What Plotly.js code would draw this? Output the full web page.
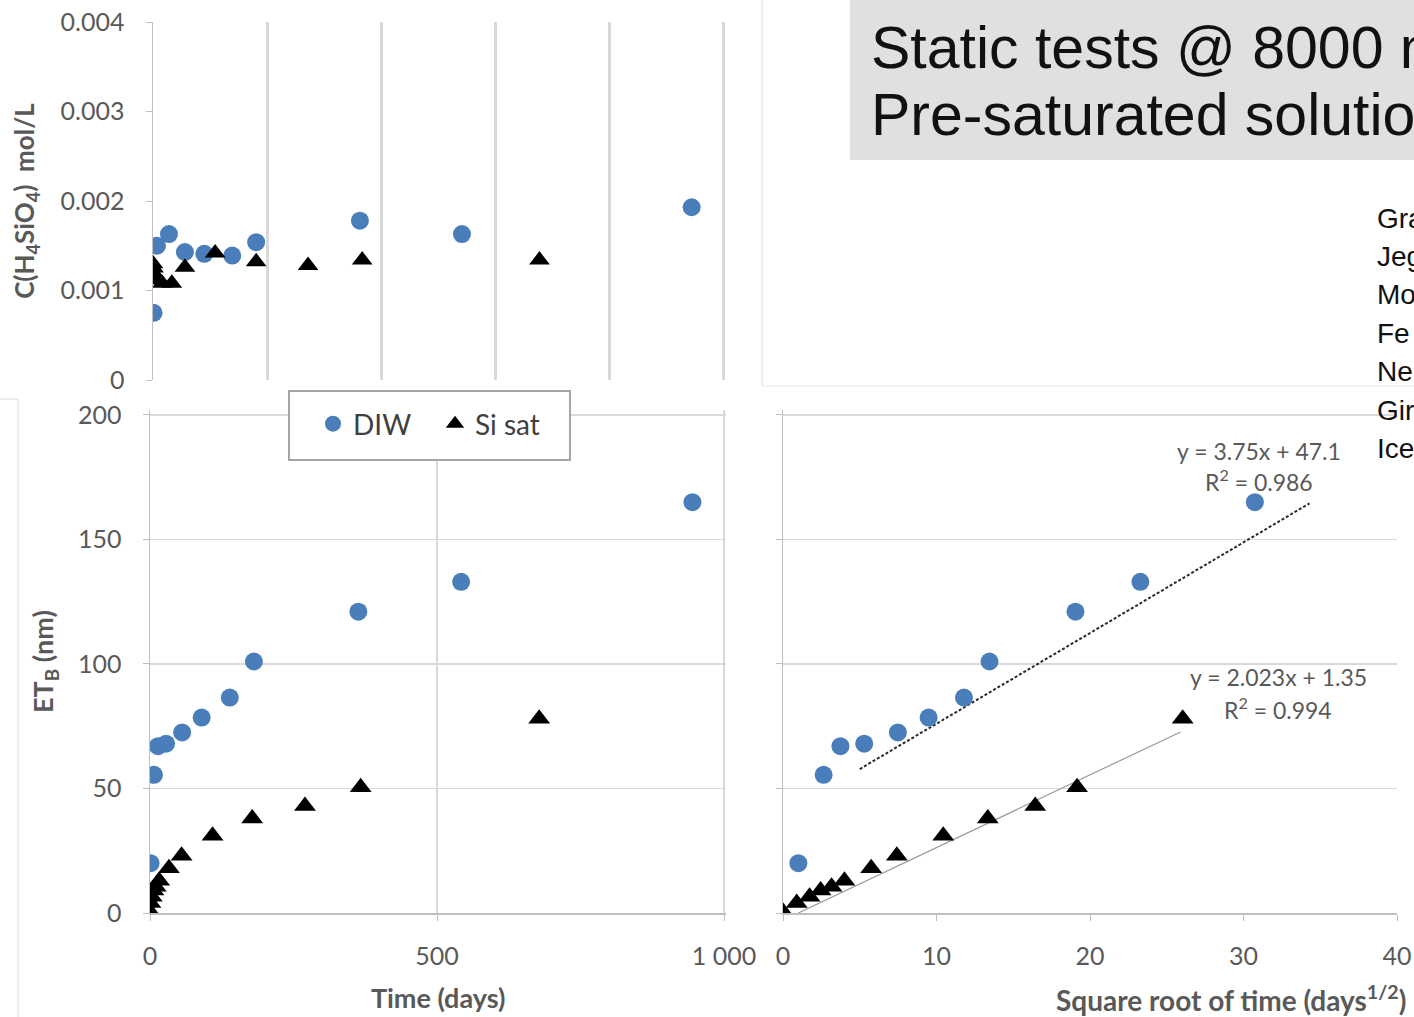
<!DOCTYPE html>
<html>
<head>
<meta charset="utf-8">
<script src="https://cdn.plot.ly/plotly-3.0.1.min.js"></script>
<style>
  html, body { margin: 0; padding: 0; background: #fff; }
  #chart { width: 1414px; height: 1017px; }
</style>
</head>
<body>
<div id="chart"></div>
<script>
// ---- Data ----
// Silica concentration panel (top)
const diwConcDays = [1, 7, 28, 56, 90, 139, 181, 363, 542, 945];
const diwConc     = [0.00075, 0.0015, 0.00163, 0.00143, 0.00141, 0.00139, 0.00154, 0.00178, 0.00163, 0.00193];
const siConcDays  = [0, 1, 3, 10, 16, 33, 56, 109, 181, 272, 367, 678];
const siConc      = [0.0013, 0.00125, 0.00118, 0.00112, 0.00108, 0.00108, 0.00126, 0.00142, 0.00132, 0.00128, 0.00134, 0.00134];

// Equivalent thickness panels (bottom)
const diwDays = [1, 7, 14, 28, 56, 90, 139, 181, 363, 542, 945];
const diwET   = [20, 55.5, 67, 68, 72.5, 78.5, 86.5, 101, 121, 133, 165];
const siDays  = [0, 0.8, 3, 6, 10, 16, 33, 55, 109, 178, 270, 367, 678];
const siET    = [0.5, 4, 6.5, 9, 10.5, 13, 18, 23, 31, 38, 43, 50.5, 78];

// Linear trend lines drawn on the square-root-of-time panel
const diwFitX = [5.0, 34.3];
const diwFitY = [57.8, 164.5];
const siFitX  = [1.0, 25.9];
const siFitY  = [0, 72.7];

const seriesNames = ['DIW', 'Si sat'];
const leftTickVals = [0, 500, 1000];
const leftTickText = ['0', '500', '1 000'];
const sideList = ['Gra', 'Jeg', 'Mo', 'Fe', 'Ne', 'Gir', 'Ice'];
const titleLines = ['Static tests @ 8000 m', 'Pre-saturated solution'];
const fitLabels = [['y = 3.75x + 47.1', 'R² = 0.986'], ['y = 2.023x + 1.35', 'R² = 0.994']];

// ---- Styling ----
const W = 1414, H = 1017;
const px = v => v / W;
const py = v => 1 - v / H;
const BLUE = '#4a7ebb';
const GRID = '#d9d9d9';
const AXL = '#bfbfbf';
const TXT = '#595959';
const FONT = 'Lato, "Open Sans", sans-serif';
const tickFont = {family: FONT, size: 25, color: TXT};
const titleFont = {family: FONT, size: 27, color: TXT, weight: 'bold'};

const sqrtArr = a => a.map(v => Math.sqrt(v));

const circle = (size) => ({symbol: 'circle', size: size, color: BLUE});
const tri = (size) => ({symbol: 'triangle-up', size: size, color: '#000'});

const traces = [
  // top panel
  {x: diwConcDays, y: diwConc, xaxis: 'x', yaxis: 'y', mode: 'markers', type: 'scatter',
   name: seriesNames[0], marker: circle(18), showlegend: false},
  {x: siConcDays, y: siConc, xaxis: 'x', yaxis: 'y', mode: 'markers', type: 'scatter',
   name: seriesNames[1], marker: tri(18), showlegend: false},
  // bottom-left panel
  {x: diwDays, y: diwET, xaxis: 'x2', yaxis: 'y2', mode: 'markers', type: 'scatter',
   name: seriesNames[0], marker: circle(18), showlegend: true},
  {x: siDays, y: siET, xaxis: 'x2', yaxis: 'y2', mode: 'markers', type: 'scatter',
   name: seriesNames[1], marker: tri(19), showlegend: true},
  // bottom-right panel: trend lines
  {x: diwFitX, y: diwFitY, xaxis: 'x3', yaxis: 'y3', mode: 'lines', type: 'scatter',
   line: {color: '#2a2a2a', width: 2, dash: '3px,2px'}, showlegend: false, hoverinfo: 'skip'},
  {x: siFitX, y: siFitY, xaxis: 'x3', yaxis: 'y3', mode: 'lines', type: 'scatter',
   line: {color: '#9a9a9a', width: 1.2}, showlegend: false, hoverinfo: 'skip'},
  {x: sqrtArr(diwDays), y: diwET, xaxis: 'x3', yaxis: 'y3', mode: 'markers', type: 'scatter',
   name: seriesNames[0], marker: circle(18), showlegend: false},
  {x: sqrtArr(siDays), y: siET, xaxis: 'x3', yaxis: 'y3', mode: 'markers', type: 'scatter',
   name: seriesNames[1], marker: tri(19), showlegend: false}
];

const annotations = [];
titleLines.forEach((t, i) => annotations.push({
  xref: 'paper', yref: 'paper', x: px(869), y: py(i === 0 ? 48 : 115),
  xanchor: 'left', yanchor: 'middle', showarrow: false, text: t,
  font: {family: '"Liberation Sans", Arial, sans-serif', size: 59, color: '#111'}
}));
sideList.forEach((t, i) => annotations.push({
  xref: 'paper', yref: 'paper', x: px(1375), y: py(218 + i * 38.4),
  xanchor: 'left', yanchor: 'middle', showarrow: false, text: t,
  font: {family: '"Liberation Sans", Arial, sans-serif', size: 28, color: '#111'}
}));
const fitPos = [[1259, 451, 481], [1278, 677, 708]];
fitLabels.forEach((pair, i) => pair.forEach((t, j) => annotations.push({
  xref: 'paper', yref: 'paper', x: px(fitPos[i][0]), y: py(fitPos[i][1 + j]),
  xanchor: 'center', yanchor: 'middle', showarrow: false, text: t.replace('²', '<sup>2</sup>'),
  font: {family: FONT, size: 23, color: TXT}
})));
annotations.push({
  xref: 'paper', yref: 'paper', x: px(1231), y: py(998), xanchor: 'center', yanchor: 'middle',
  showarrow: false, text: 'Square root of time (days<sup>1/2</sup>)', font: {family: FONT, size: 28, color: TXT, weight: 'bold'}
});

const shapes = [
  {type: 'rect', xref: 'paper', yref: 'paper', x0: px(850), x1: 1, y0: py(160), y1: 1,
   fillcolor: '#e0e0e0', line: {width: 0}, layer: 'below'},
  {type: 'line', xref: 'paper', yref: 'paper', x0: px(762), x1: px(762), y0: py(386), y1: 1,
   line: {color: '#dcdcdc', width: 1}},
  {type: 'line', xref: 'paper', yref: 'paper', x0: px(762), x1: 1, y0: py(386), y1: py(386),
   line: {color: '#e6e6e6', width: 1}},
  {type: 'line', xref: 'paper', yref: 'paper', x0: 0, x1: px(18), y0: py(399), y1: py(399),
   line: {color: '#dcdcdc', width: 1}},
  {type: 'line', xref: 'paper', yref: 'paper', x0: px(18), x1: px(18), y0: 0, y1: py(399),
   line: {color: '#dcdcdc', width: 1}},
  // legend frame
  {type: 'rect', xref: 'paper', yref: 'paper', x0: px(289), x1: px(570), y0: py(460), y1: py(391),
   fillcolor: '#fff', line: {color: '#a6a6a6', width: 2}, layer: 'above'}
];

const layout = {
  width: W, height: H,
  margin: {l: 0, r: 0, t: 0, b: 0},
  paper_bgcolor: '#fff', plot_bgcolor: 'rgba(0,0,0,0)',
  font: {family: FONT, color: TXT},
  showlegend: true,
  legend: {
    x: px(313), y: py(399), xanchor: 'left', yanchor: 'top', orientation: 'h',
    borderwidth: 0, bgcolor: 'rgba(0,0,0,0)',
    font: {family: FONT, size: 28, color: '#404040'}, itemwidth: 30,
    entrywidth: 77, entrywidthmode: 'pixels'
  },
  // top panel
  xaxis: {domain: [px(153), px(725.3)], range: [0, 1004], dtick: 200, anchor: 'y',
          showgrid: true, gridcolor: GRID, gridwidth: 3, showticklabels: false,
          zeroline: false, showline: false, ticks: ''},
  yaxis: {domain: [py(380), py(22)], range: [0, 0.004], dtick: 0.001, anchor: 'x',
          showgrid: false, zeroline: false, showline: true, linecolor: AXL, linewidth: 1.5,
          ticks: 'outside', ticklen: 6, tickcolor: AXL, tickfont: tickFont, ticklabelstandoff: 16,
          title: {text: 'C(H<sub>4</sub>SiO<sub>4</sub>)  mol/L', font: {family: FONT, size: 26, color: TXT, weight: 'bold'}, standoff: 18}},
  // bottom-left panel
  xaxis2: {domain: [px(150), px(726.3)], range: [0, 1004], anchor: 'y2',
           tickvals: leftTickVals, ticktext: leftTickText,
           showgrid: true, gridcolor: GRID, gridwidth: 1.5, zeroline: false,
           showline: true, linecolor: AXL, linewidth: 1.5, ticks: 'outside', ticklen: 6, tickcolor: AXL,
           tickfont: tickFont, ticklabelstandoff: 14,
           title: {text: 'Time (days)', font: titleFont, standoff: 20}},
  yaxis2: {domain: [py(913), py(410)], range: [0, 202], dtick: 50, anchor: 'x2',
           showgrid: true, gridcolor: GRID, gridwidth: 1.5, zeroline: false,
           showline: true, linecolor: AXL, linewidth: 1.5, ticks: 'outside', ticklen: 6, tickcolor: AXL,
           tickfont: tickFont, ticklabelstandoff: 16,
           title: {text: 'ET<sub>B</sub> (nm)', font: titleFont, standoff: 16}},
  // bottom-right panel
  xaxis3: {domain: [px(783), px(1397)], range: [0, 40], dtick: 10, anchor: 'y3',
           showgrid: false, zeroline: false, showline: true, linecolor: AXL, linewidth: 1.5,
           ticks: 'outside', ticklen: 6, tickcolor: AXL, tickfont: tickFont, ticklabelstandoff: 14},
  yaxis3: {domain: [py(913), py(410)], range: [0, 202], dtick: 50, anchor: 'x3',
           showgrid: true, gridcolor: GRID, gridwidth: 1.5, zeroline: false, showticklabels: false,
           showline: true, linecolor: AXL, linewidth: 1.5, ticks: 'outside', ticklen: 6, tickcolor: AXL},
  shapes: shapes,
  annotations: annotations
};

Plotly.newPlot('chart', traces, layout, {displayModeBar: false, staticPlot: true});
</script>
</body>
</html>
